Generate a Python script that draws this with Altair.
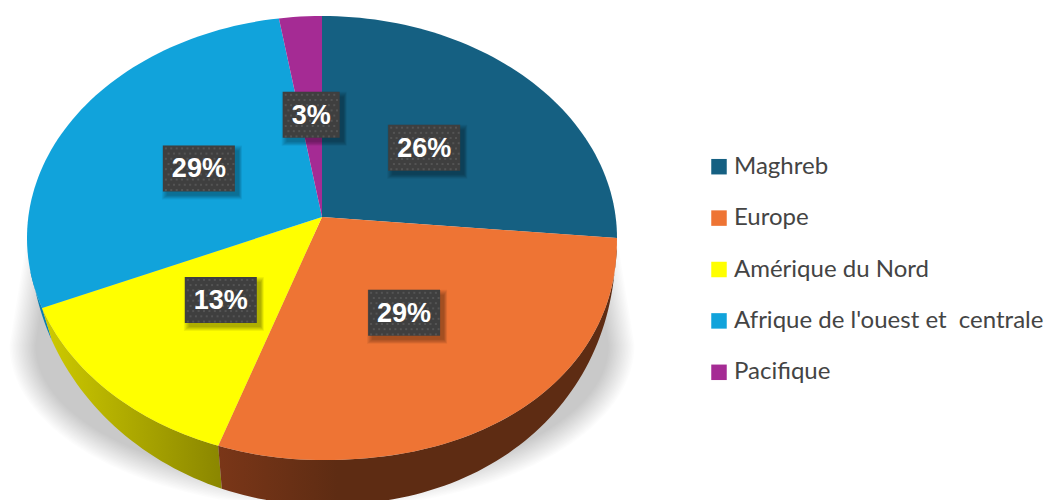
import math
import altair as alt

names = ["Maghreb", "Europe", "Amérique du Nord", "Afrique de l'ouest et\u00a0 centrale", "Pacifique"]
shares = [26, 29, 13, 29, 3]
colors = ["#156082", "#EE7434", "#FFFF00", "#11A3DB", "#A52B94"]
# Angular sweep of each slice on the tilted top face (degrees)
sweeps = [90, 110.6, 51, 100, 8.4]
# How far out along each slice its label sits
pull_x = [0.49, 0.47, 0.476, 0.49, 0.5]
pull_y = [0.51, 0.465, 0.474, 0.51, 0.51]

CX, CY, RX, RY = 322, 238, 295, 222      # rim of the top face
AX, AY = 322, 217                        # apex of the slices
BCX, BCY, BRX, BRY = 323, 240, 293, 265  # lower edge of the side wall


def pt(t, cx=CX, cy=CY, rx=RX, ry=RY):
    r = math.radians(t)
    s, c = math.sin(r), math.cos(r)
    if 90 < t < 180:  # the near right quadrant bulges a little in the perspective
        s, c = s ** 0.93, -((-c) ** 0.93)
    return [cx + rx * s, cy - ry * c]


def arc(a, b, **kw):
    n = max(2, int(abs(b - a) / 1.5) + 1)
    return [pt(a + (b - a) * i / n, **kw) for i in range(n + 1)]


def feature(rings, **props):
    return {"type": "Feature", "properties": props,
            "geometry": {"type": "Polygon", "coordinates": [r + [r[0]] for r in rings]}}


def box(x0, y0, x1, y1):
    return [[x0, y0], [x1, y0], [x1, y1], [x0, y1]]


edges = [0]
for s in sweeps:
    edges.append(edges[-1] + s)

slices = [feature([[[AX, AY]] + arc(edges[i], edges[i + 1])], name=names[i]) for i in range(5)]

B = dict(cx=BCX, cy=BCY, rx=BRX, ry=BRY)


def wall(a, b, a2, b2):
    return [feature([arc(a, b) + arc(b2, a2, **B)])]


wall_orange = wall(edges[1] + 2, edges[2], edges[1] + 2, edges[2] - 0.4)
wall_yellow = wall(edges[2], edges[3], edges[2] - 0.4, edges[3] - 4)
wall_blue = wall(edges[3], edges[3] + 10, edges[3] - 4, edges[3] + 10)

# Soft drop shadow under the pie: nested outlines
shadow = []
for k in range(18):
    d = 27 - 1.5 * k
    rx, ry = 314 - d, 165 - d
    ring = [[28 + d * 0.8, 222 + d]] + arc(270, 360, cx=322, cy=345, rx=rx, ry=-ry) + arc(0, 90, cx=322, cy=345, rx=rx, ry=-ry) + [[616 - d * 0.8, 222 + d]]
    shadow.append(feature([ring]))

# Data labels
lbl = []
boxes, dots, shadows = [], [], []
for i in range(5):
    mid = (edges[i] + edges[i + 1]) / 2
    ex, ey = pt(mid)
    x = AX + pull_x[i] * (ex - AX)
    y = AY + pull_y[i] * (ey - AY)
    text = f"{shares[i]}%"
    w = 72 if len(text) == 3 else 57
    h = 46
    x0, x1, y0, y1 = x - w / 2, x + w / 2, y - h / 2, y + h / 2
    lbl.append({"x": x, "y": y + 1, "t": text})
    boxes.append(feature([box(x0, y0, x1, y1)]))
    for d in range(6):
        shadows.append(feature([box(x0 + 4 - d, y0 + 5 - d, x1 + 4 + d * 0.6, y1 + 4 + d * 0.8)]))
    row = 0
    yy = y0 + 2
    while yy < y1 - 2:
        xx = x0 + 2 + (row % 2) * 2.7
        while xx < x1 - 2:
            dots.append(feature([box(xx, yy, xx + 2, yy + 2)]))
            xx += 5.4
        yy += 5.2
        row += 1

proj = dict(type="identity", scale=1, translate=[-8, -8])


def shape(features, **mk):
    mk.setdefault("strokeWidth", 0)
    return alt.Chart(alt.Data(values=features)).mark_geoshape(**mk).project(**proj)


def grad(*stops):
    return alt.LinearGradient(gradient="linear", x1=0, x2=1, y1=0, y2=0,
                              stops=[alt.GradientStop(color=c, offset=o) for o, c in stops])


legend = alt.Legend(
    title=None, orient="none", legendX=699, legendY=146.7,
    symbolType="square", symbolSize=240, symbolStrokeWidth=0,
    labelFont="Lato", labelFontSize=24, labelColor="#444444",
    labelLimit=400, labelOffset=3, rowPadding=27.4,
)

top = (
    alt.Chart(alt.Data(values=slices))
    .mark_geoshape(strokeWidth=0)
    .encode(color=alt.Color("properties.name:N",
                            scale=alt.Scale(domain=names, range=colors),
                            sort=names, legend=legend))
    .project(**proj)
)

labels = (
    alt.Chart(alt.Data(values=lbl))
    .mark_text(font="Liberation Sans", fontWeight="bold", fontSize=27, color="white")
    .encode(longitude="x:Q", latitude="y:Q", text="t:N")
    .project(**proj)
)

chart = alt.layer(
    shape(shadow, color="#000000", opacity=0.012),
    shape(wall_blue, color="#0C7FAE"),
    shape(wall_yellow, color=grad((0, "#CFCB00"), (1, "#8A8600"))),
    shape(wall_orange, color=grad((0, "#7A3618"), (0.3, "#5E2C13"), (1, "#5E2C13"))),
    top,
    shape(shadows, color="#000000", opacity=0.06),
    shape(boxes, color="#3F3F3F"),
    shape(dots, color="#5E5E5E", opacity=0.7),
    labels,
).properties(
    width=1038, height=492, padding=0,
    autosize=alt.AutoSizeParams(type="none"),
    background="white",
).configure_view(stroke=None)

chart.save("out.html", embed_options={"renderer": "svg", "actions": False})
